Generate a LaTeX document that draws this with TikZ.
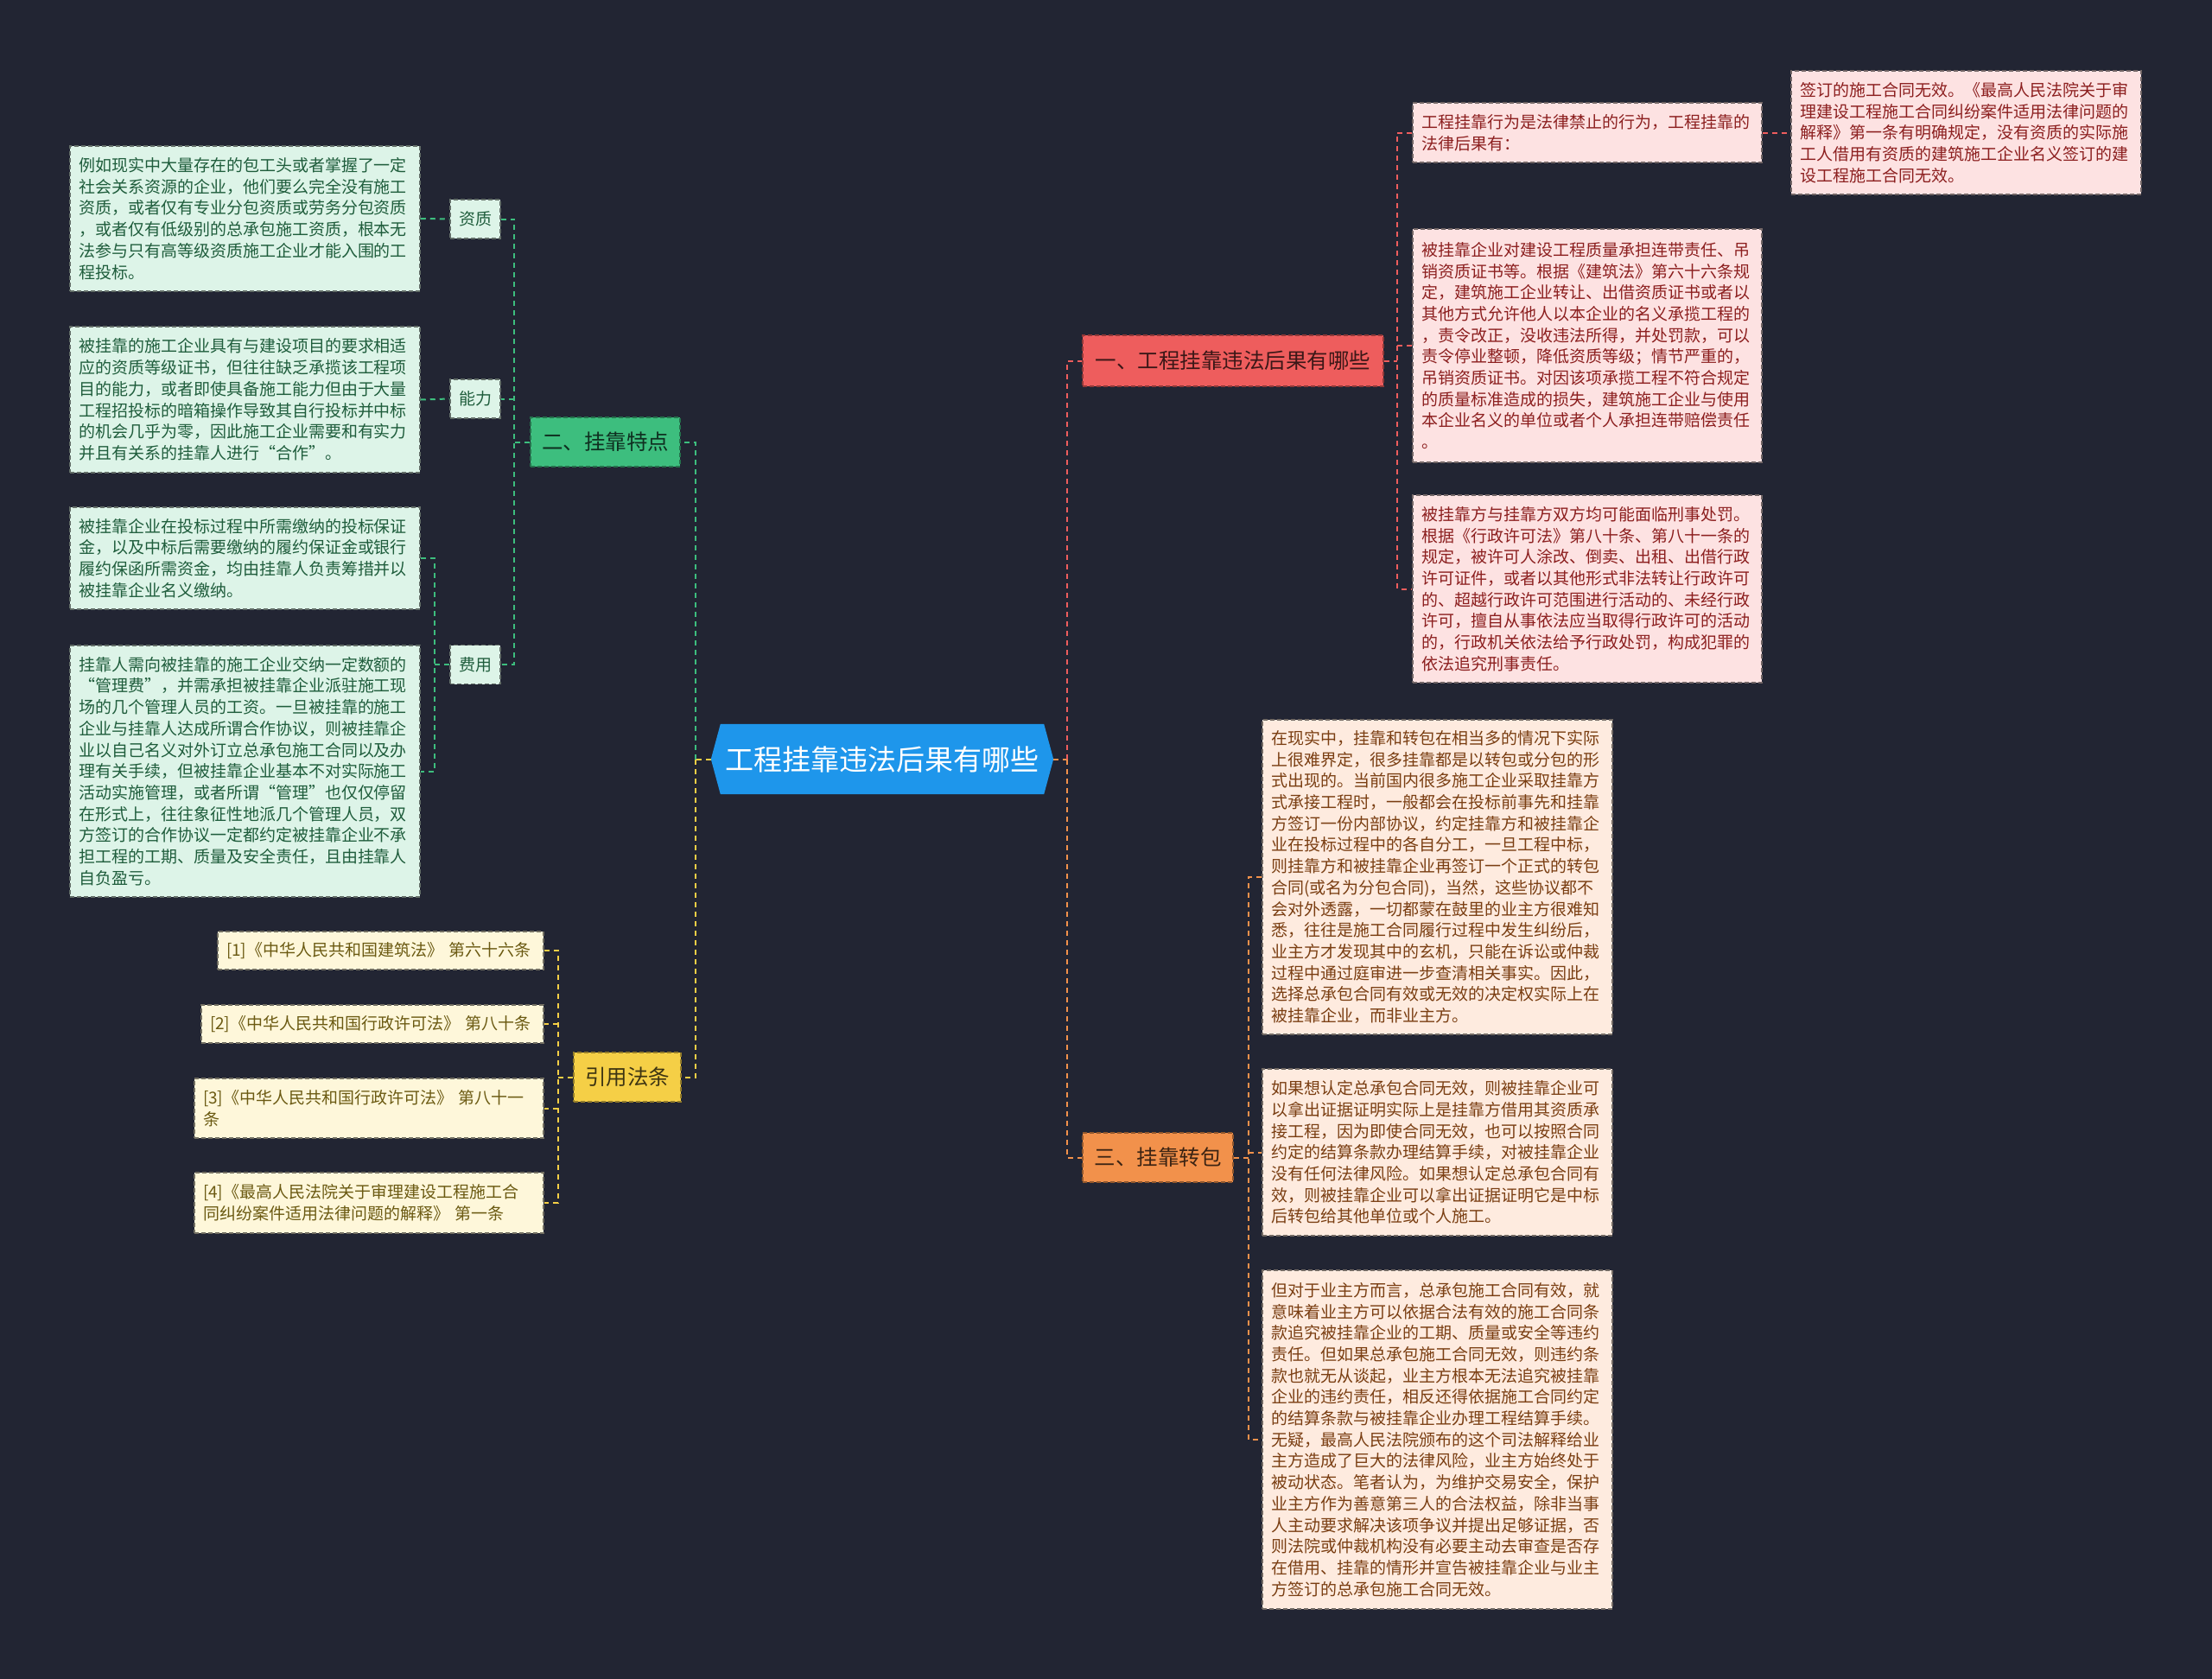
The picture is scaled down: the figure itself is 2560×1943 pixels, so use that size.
\documentclass[tikz,border=0pt]{standalone}
\usepackage{fontspec}
\setmainfont{Noto Sans CJK SC}
\pgfdeclarelayer{bglayer}
\pgfdeclarelayer{hexlayer}
\pgfsetlayers{bglayer,hexlayer,main}
\definecolor{bgc}{HTML}{222533}
\definecolor{rootc}{HTML}{1E96EB}
\definecolor{cR}{HTML}{EE5D5D}
\definecolor{cO}{HTML}{F2914B}
\definecolor{cG}{HTML}{3DBE7E}
\definecolor{cY}{HTML}{F5CF46}
\definecolor{pinkf}{HTML}{FDE2E2}
\definecolor{pinkt}{HTML}{8C1F1F}
\definecolor{peachf}{HTML}{FEEBDF}
\definecolor{peacht}{HTML}{7A3E12}
\definecolor{greenf}{HTML}{DDF4E8}
\definecolor{greent}{HTML}{1F5D3C}
\definecolor{yelf}{HTML}{FEF7DA}
\definecolor{yelt}{HTML}{6B5A12}
\tikzset{
  con/.style={line width=2pt, dash pattern=on 6pt off 5pt},
  boxbase/.style={draw, line width=1.5pt, dash pattern=on 5pt off 3pt, align=left,
    inner xsep=10pt, inner ysep=0pt, font=\fontsize{19}{24.7}\selectfont},
  pinkbox/.style={boxbase, fill=pinkf, draw=pinkf!45!black, text=pinkt},
  peachbox/.style={boxbase, fill=peachf, draw=peachf!45!black, text=peacht},
  greenbox/.style={boxbase, fill=greenf, draw=greenf!45!black, text=greent},
  yelbox/.style={boxbase, fill=yelf, draw=yelf!45!black, text=yelt},
  lbl/.style={greenbox, align=center, inner xsep=0pt},
  branch/.style={draw, line width=1.5pt, dash pattern=on 5pt off 3pt, inner sep=0pt,
    font=\fontsize{24.5}{30}\selectfont, align=center},
}
\begin{document}
\begin{tikzpicture}[x=1pt,y=-1pt]
\useasboundingbox (0,0) rectangle (2560,1943);
\begin{pgfonlayer}{bglayer}
\fill[bgc] (0,0) rectangle (2560,1943);
\end{pgfonlayer}

% root
\node[inner sep=0pt, minimum width=396pt, minimum height=81pt, text=white,
  font=\fontsize{33}{40}\selectfont] (root) at (1021,878.5) {工程挂靠违法后果有哪些};
\begin{pgfonlayer}{hexlayer}
\fill[rootc] (root.west) -- ([xshift=11pt]root.north west) -- ([xshift=-11pt]root.north east)
  -- (root.east) -- ([xshift=-11pt]root.south east) -- ([xshift=11pt]root.south west) -- cycle;
\end{pgfonlayer}

% branches
\node[branch, fill=cR, draw=cR!60!black, text=cR!25!black, minimum width=348pt, minimum height=59pt] (one) at (1427,417.5) {一、工程挂靠违法后果有哪些};
\node[branch, fill=cO, draw=cO!60!black, text=cO!25!black, minimum width=174pt, minimum height=57pt] (three) at (1340,1339.5) {三、挂靠转包};
\node[branch, fill=cG, draw=cG!60!black, text=cG!25!black, minimum width=173pt, minimum height=57pt] (two) at (700.5,511.5) {二、挂靠特点};
\node[branch, fill=cY, draw=cY!60!black, text=cY!25!black, minimum width=124pt, minimum height=57pt] (cite) at (726,1246.5) {引用法条};

% branch one children
\node[pinkbox, minimum width=404pt, minimum height=69pt, text width=384pt] (A) at (1837,153.5) {工程挂靠行为是法律禁止的行为，工程挂靠的\\
法律后果有：};
\node[pinkbox, minimum width=405pt, minimum height=143pt, text width=385pt] (D) at (2275.5,153.5) {签订的施工合同无效。《最高人民法院关于审\\
理建设工程施工合同纠纷案件适用法律问题的\\
解释》第一条有明确规定，没有资质的实际施\\
工人借用有资质的建筑施工企业名义签订的建\\
设工程施工合同无效。};
\node[pinkbox, minimum width=404pt, minimum height=270pt, text width=384pt] (B) at (1837,400) {被挂靠企业对建设工程质量承担连带责任、吊\\
销资质证书等。根据《建筑法》第六十六条规\\
定，建筑施工企业转让、出借资质证书或者以\\
其他方式允许他人以本企业的名义承揽工程的\\
，责令改正，没收违法所得，并处罚款，可以\\
责令停业整顿，降低资质等级；情节严重的，\\
吊销资质证书。对因该项承揽工程不符合规定\\
的质量标准造成的损失，建筑施工企业与使用\\
本企业名义的单位或者个人承担连带赔偿责任\\
。};
\node[pinkbox, minimum width=404pt, minimum height=217pt, text width=384pt] (C) at (1837,681.5) {被挂靠方与挂靠方双方均可能面临刑事处罚。\\
根据《行政许可法》第八十条、第八十一条的\\
规定，被许可人涂改、倒卖、出租、出借行政\\
许可证件，或者以其他形式非法转让行政许可\\
的、超越行政许可范围进行活动的、未经行政\\
许可，擅自从事依法应当取得行政许可的活动\\
的，行政机关依法给予行政处罚，构成犯罪的\\
依法追究刑事责任。};

% branch three children
\node[peachbox, minimum width=405pt, minimum height=364pt, text width=385pt] (E) at (1663.5,1015) {在现实中，挂靠和转包在相当多的情况下实际\\
上很难界定，很多挂靠都是以转包或分包的形\\
式出现的。当前国内很多施工企业采取挂靠方\\
式承接工程时，一般都会在投标前事先和挂靠\\
方签订一份内部协议，约定挂靠方和被挂靠企\\
业在投标过程中的各自分工，一旦工程中标，\\
则挂靠方和被挂靠企业再签订一个正式的转包\\
合同(或名为分包合同)，当然，这些协议都不\\
会对外透露，一切都蒙在鼓里的业主方很难知\\
悉，往往是施工合同履行过程中发生纠纷后，\\
业主方才发现其中的玄机，只能在诉讼或仲裁\\
过程中通过庭审进一步查清相关事实。因此，\\
选择总承包合同有效或无效的决定权实际上在\\
被挂靠企业，而非业主方。};
\node[peachbox, minimum width=405pt, minimum height=193pt, text width=385pt] (F) at (1663.5,1333.5) {如果想认定总承包合同无效，则被挂靠企业可\\
以拿出证据证明实际上是挂靠方借用其资质承\\
接工程，因为即使合同无效，也可以按照合同\\
约定的结算条款办理结算手续，对被挂靠企业\\
没有任何法律风险。如果想认定总承包合同有\\
效，则被挂靠企业可以拿出证据证明它是中标\\
后转包给其他单位或个人施工。};
\node[peachbox, minimum width=405pt, minimum height=392pt, text width=385pt] (G) at (1663.5,1666) {但对于业主方而言，总承包施工合同有效，就\\
意味着业主方可以依据合法有效的施工合同条\\
款追究被挂靠企业的工期、质量或安全等违约\\
责任。但如果总承包施工合同无效，则违约条\\
款也就无从谈起，业主方根本无法追究被挂靠\\
企业的违约责任，相反还得依据施工合同约定\\
的结算条款与被挂靠企业办理工程结算手续。\\
无疑，最高人民法院颁布的这个司法解释给业\\
主方造成了巨大的法律风险，业主方始终处于\\
被动状态。笔者认为，为维护交易安全，保护\\
业主方作为善意第三人的合法权益，除非当事\\
人主动要求解决该项争议并提出足够证据，否\\
则法院或仲裁机构没有必要主动去审查是否存\\
在借用、挂靠的情形并宣告被挂靠企业与业主\\
方签订的总承包施工合同无效。};

% branch two children
\node[lbl, minimum width=58pt, minimum height=45pt] (zz) at (550,253.5) {资质};
\node[lbl, minimum width=58pt, minimum height=45pt] (nl) at (550,461.5) {能力};
\node[lbl, minimum width=58pt, minimum height=45pt] (fy) at (550,769) {费用};
\node[greenbox, minimum width=405pt, minimum height=168pt, text width=385pt] (H) at (283.5,253) {例如现实中大量存在的包工头或者掌握了一定\\
社会关系资源的企业，他们要么完全没有施工\\
资质，或者仅有专业分包资质或劳务分包资质\\
，或者仅有低级别的总承包施工资质，根本无\\
法参与只有高等级资质施工企业才能入围的工\\
程投标。};
\node[greenbox, minimum width=405pt, minimum height=169pt, text width=385pt] (I) at (283.5,462.5) {被挂靠的施工企业具有与建设项目的要求相适\\
应的资质等级证书，但往往缺乏承揽该工程项\\
目的能力，或者即使具备施工能力但由于大量\\
工程招投标的暗箱操作导致其自行投标并中标\\
的机会几乎为零，因此施工企业需要和有实力\\
并且有关系的挂靠人进行“合作”。};
\node[greenbox, minimum width=405pt, minimum height=118pt, text width=385pt] (J) at (283.5,646) {被挂靠企业在投标过程中所需缴纳的投标保证\\
金，以及中标后需要缴纳的履约保证金或银行\\
履约保函所需资金，均由挂靠人负责筹措并以\\
被挂靠企业名义缴纳。};
\node[greenbox, minimum width=405pt, minimum height=291pt, text width=385pt] (K) at (283.5,892.5) {挂靠人需向被挂靠的施工企业交纳一定数额的\\
“管理费”，并需承担被挂靠企业派驻施工现\\
场的几个管理人员的工资。一旦被挂靠的施工\\
企业与挂靠人达成所谓合作协议，则被挂靠企\\
业以自己名义对外订立总承包施工合同以及办\\
理有关手续，但被挂靠企业基本不对实际施工\\
活动实施管理，或者所谓“管理”也仅仅停留\\
在形式上，往往象征性地派几个管理人员，双\\
方签订的合作协议一定都约定被挂靠企业不承\\
担工程的工期、质量及安全责任，且由挂靠人\\
自负盈亏。};

% cite children
\node[yelbox, minimum width=377pt, minimum height=44pt, text width=357pt] (L1) at (440.5,1100) {[1]《中华人民共和国建筑法》 第六十六条};
\node[yelbox, minimum width=396pt, minimum height=44pt, text width=376pt] (L2) at (431,1185) {[2]《中华人民共和国行政许可法》 第八十条};
\node[yelbox, minimum width=404pt, minimum height=69pt, text width=384pt] (L3) at (427,1282.5) {[3]《中华人民共和国行政许可法》 第八十一\\
条};
\node[yelbox, minimum width=404pt, minimum height=70pt, text width=384pt] (L4) at (427,1392) {[4]《最高人民法院关于审理建设工程施工合\\
同纠纷案件适用法律问题的解释》 第一条};

% connectors: root
\coordinate (lb) at (805,878.5);
\coordinate (rb) at (1235,878.5);
\draw[con,cY] (root.west) -- (lb);
\draw[con,cG] (lb) |- (two.east);
\draw[con,cY] (lb) |- (cite.east);
\draw[con,cO] (root.east) -- (rb);
\draw[con,cR] (rb) |- (one.west);
\draw[con,cO] (rb) |- (three.west);

% branch one
\coordinate (b1) at (1617,417.5);
\draw[con,cR] (one.east) -- (b1);
\draw[con,cR] (A.west) -| (b1) |- (C.west);
\draw[con,cR] (b1 |- B.west) -- (B.west);
\draw[con,cR] (A.east) -- (D.west);

% branch three
\coordinate (b3) at (1445,1339.5);
\draw[con,cO] (three.east) -- (b3);
\draw[con,cO] (E.west) -| (b3) |- (G.west);
\draw[con,cO] (b3 |- F.west) -- (F.west);

% branch two
\coordinate (b2) at (595,511.5);
\draw[con,cG] (two.west) -- (b2);
\draw[con,cG] (zz.east) -| (b2) |- (fy.east);
\draw[con,cG] (b2 |- nl.east) -- (nl.east);
\draw[con,cG] (H.east) -- (zz.west);
\draw[con,cG] (I.east) -- (nl.west);
\coordinate (bf) at (503,769);
\draw[con,cG] (fy.west) -- (bf);
\draw[con,cG] (J.east) -| (bf) |- (K.east);

% cite
\coordinate (bc) at (646,1246.5);
\draw[con,cY] (cite.west) -- (bc);
\draw[con,cY] (L1.east) -| (bc) |- (L4.east);
\draw[con,cY] (bc |- L2.east) -- (L2.east);
\draw[con,cY] (bc |- L3.east) -- (L3.east);
\end{tikzpicture}
\end{document}
